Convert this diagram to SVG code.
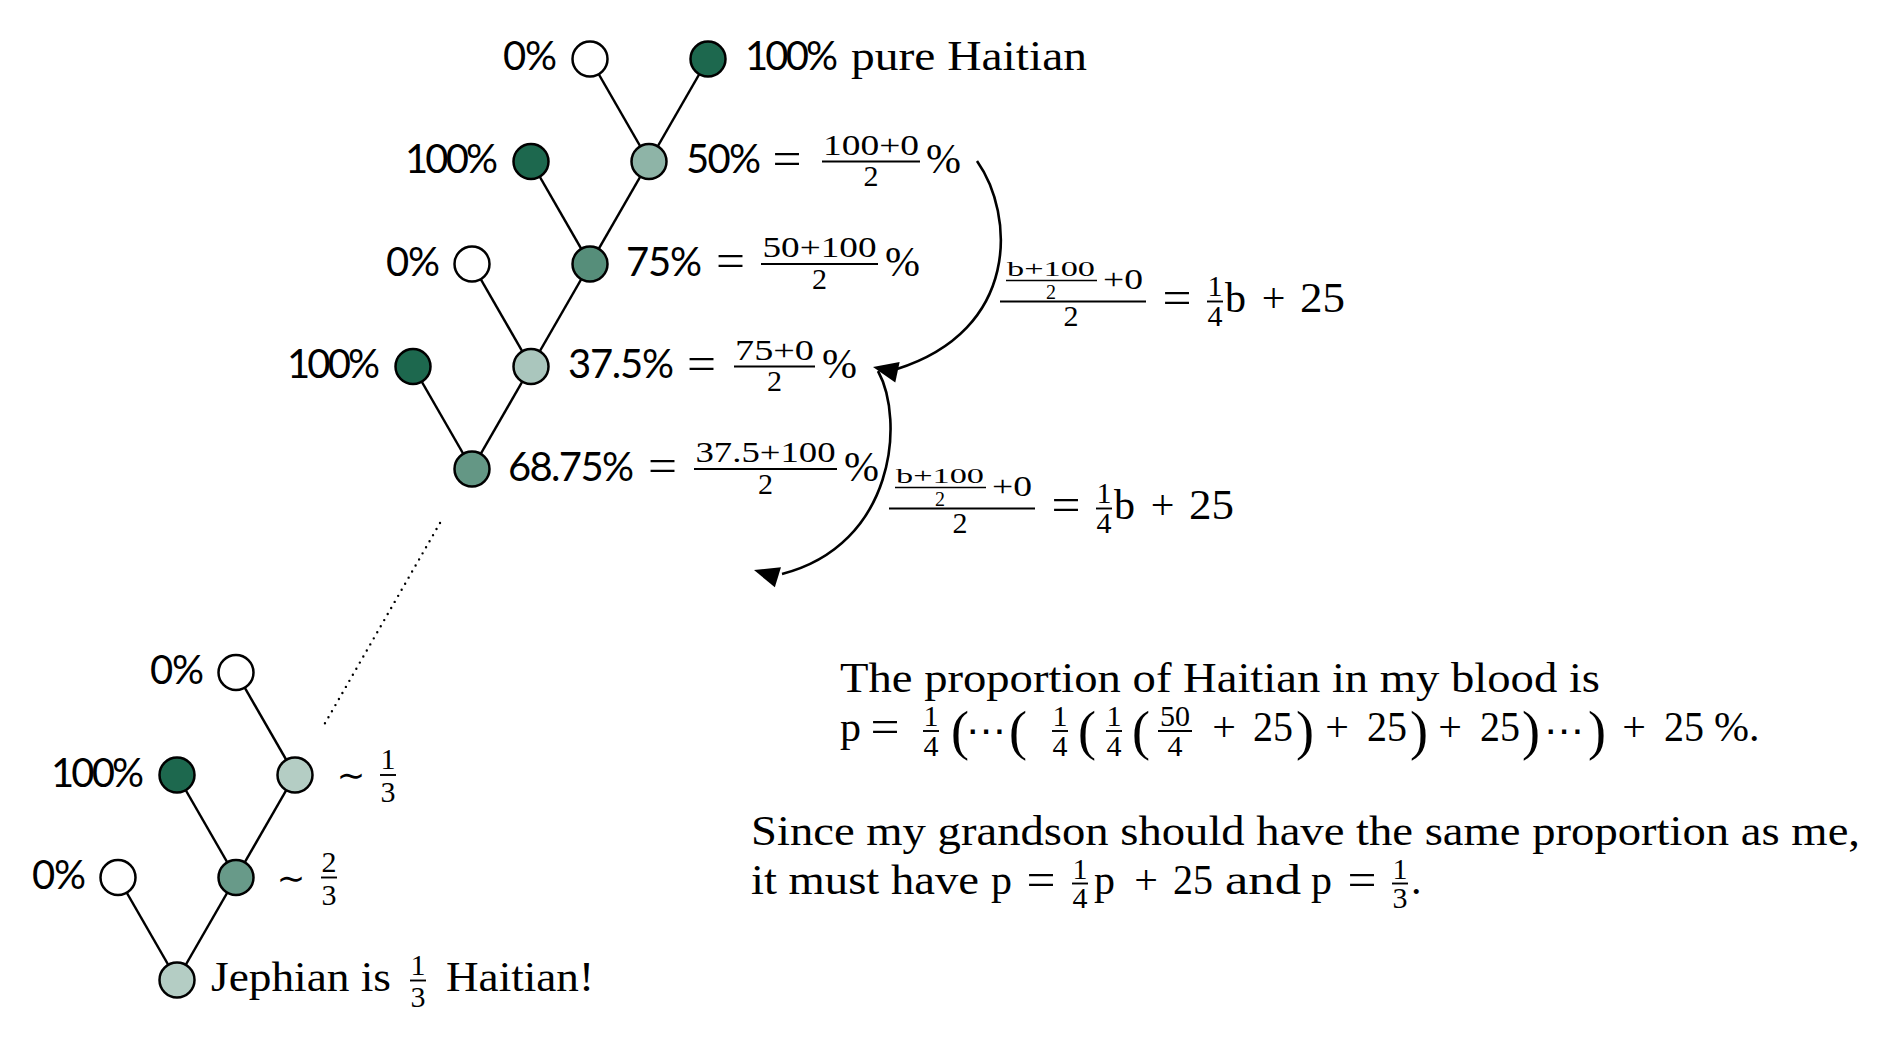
<svg xmlns="http://www.w3.org/2000/svg" xmlns:xlink="http://www.w3.org/1999/xlink" width="1890" height="1063" viewBox="0 0 1890 1063">
<defs>
<style>
.n{stroke:#000;stroke-width:2.5}
.w{fill:#ffffff}.d{fill:#1d684e}.p75{fill:#568e7a}.p50{fill:#8eb4a7}.p37{fill:#aac6bd}.p68{fill:#649785}.p33{fill:#b4cdc4}.p67{fill:#689a89}
.e{stroke:#000;stroke-width:2.5;fill:none}
.arc{stroke:#000;stroke-width:2.6;fill:none}
.dot{stroke:#000;stroke-width:2.4;stroke-dasharray:0 7;stroke-linecap:round}
.bar{stroke:#000;stroke-width:1.9}
.sbar{stroke:#000;stroke-width:1.4}
text{fill:#000}
.sans{font-family:Lato,"Open Sans",sans-serif;font-size:40px}
.serif{font-family:"Liberation Serif",serif;font-size:42px}
.eq{font-family:"Liberation Serif",serif;font-size:46px}
.sc{font-family:"Liberation Serif",serif;font-size:30px}
.ssc{font-family:"Liberation Serif",serif;font-size:20px}
.par{font-family:"Liberation Serif",serif;font-size:54px}
.sim{font-family:"DejaVu Sans",sans-serif;font-size:34px}
.dots{font-family:"DejaVu Sans",sans-serif;font-size:36px}
.m{text-anchor:middle}
.end{text-anchor:end}
</style>
<path id="ah" d="M0,0 L-25,-10.5 L-25,10.5 Z" fill="#000"/>
</defs>

<g id="connectors">
<line class="e" x1="590" y1="59" x2="649" y2="161.5"/>
<line class="e" x1="708" y1="59" x2="649" y2="161.5"/>
<line class="e" x1="531" y1="161.5" x2="590" y2="264"/>
<line class="e" x1="649" y1="161.5" x2="590" y2="264"/>
<line class="e" x1="472" y1="264" x2="531" y2="366.5"/>
<line class="e" x1="590" y1="264" x2="531" y2="366.5"/>
<line class="e" x1="413" y1="366.5" x2="472" y2="469"/>
<line class="e" x1="531" y1="366.5" x2="472" y2="469"/>
<line class="e" x1="236" y1="672.5" x2="295" y2="775"/>
<line class="e" x1="177" y1="775" x2="236" y2="877.5"/>
<line class="e" x1="295" y1="775" x2="236" y2="877.5"/>
<line class="e" x1="118" y1="877.5" x2="177" y2="980"/>
<line class="e" x1="236" y1="877.5" x2="177" y2="980"/>
<line class="dot" x1="440" y1="523" x2="324" y2="725"/>
<path class="arc" d="M977,161 C1015,215 1020,330 897,369"/>
<use xlink:href="#ah" transform="translate(873,367) rotate(-168)"/>
<path class="arc" d="M878,371 C905,420 895,545 782,574"/>
<use xlink:href="#ah" transform="translate(754,570) rotate(-163)"/>
</g>

<!-- top tree -->
<g id="n-top-white">
<circle class="n w" cx="590" cy="59" r="17.5"/>
<text class="sans end" x="557" y="70" textLength="54">0%</text>
</g>
<g id="n-top-pure">
<circle class="n d" cx="708" cy="59" r="17.5"/>
<text class="sans" x="745" y="70" textLength="93">100%</text>
<text class="serif" x="851" y="70" textLength="236" lengthAdjust="spacingAndGlyphs">pure Haitian</text>
</g>
<g id="n-l3-dark">
<circle class="n d" cx="531" cy="161.5" r="17.5"/>
<text class="sans end" x="498" y="173" textLength="93">100%</text>
</g>
<g id="n-50">
<circle class="n p50" cx="649" cy="161.5" r="17.5"/>
<text class="sans" x="686" y="173" textLength="75">50%</text>
<text class="eq m" x="787" y="173.5" textLength="29" lengthAdjust="spacingAndGlyphs">=</text>
<text class="sc m" x="871" y="154.5" textLength="96" lengthAdjust="spacingAndGlyphs">100+0</text>
<line class="bar" x1="822" y1="161.5" x2="920" y2="161.5"/>
<text class="sc m" x="871" y="186">2</text>
<text class="serif" x="926" y="173">%</text>
</g>
<g id="n-l2-white">
<circle class="n w" cx="472" cy="264" r="17.5"/>
<text class="sans end" x="440" y="275.5" textLength="54">0%</text>
</g>
<g id="n-75">
<circle class="n p75" cx="590" cy="264" r="17.5"/>
<text class="sans" x="626" y="275.5" textLength="76">75%</text>
<text class="eq m" x="730.5" y="276" textLength="29" lengthAdjust="spacingAndGlyphs">=</text>
<text class="sc m" x="819.5" y="257" textLength="114" lengthAdjust="spacingAndGlyphs">50+100</text>
<line class="bar" x1="761" y1="264" x2="878" y2="264"/>
<text class="sc m" x="819.5" y="288.5">2</text>
<text class="serif" x="885" y="275.5">%</text>
</g>
<g id="n-l1-dark">
<circle class="n d" cx="413" cy="366.5" r="17.5"/>
<text class="sans end" x="380" y="378" textLength="93">100%</text>
</g>
<g id="n-37">
<circle class="n p37" cx="531" cy="366.5" r="17.5"/>
<text class="sans" x="568" y="378" textLength="106">37.5%</text>
<text class="eq m" x="701.5" y="378.5" textLength="29" lengthAdjust="spacingAndGlyphs">=</text>
<text class="sc m" x="774.5" y="359.5" textLength="79" lengthAdjust="spacingAndGlyphs">75+0</text>
<line class="bar" x1="734" y1="366.5" x2="815" y2="366.5"/>
<text class="sc m" x="774.5" y="391">2</text>
<text class="serif" x="822" y="378">%</text>
</g>
<g id="n-68">
<circle class="n p68" cx="472" cy="469" r="17.5"/>
<text class="sans" x="508" y="480.5" textLength="126">68.75%</text>
<text class="eq m" x="662.5" y="481" textLength="29" lengthAdjust="spacingAndGlyphs">=</text>
<text class="sc m" x="765.5" y="462" textLength="140" lengthAdjust="spacingAndGlyphs">37.5+100</text>
<line class="bar" x1="694" y1="469" x2="837" y2="469"/>
<text class="sc m" x="765.5" y="493.5">2</text>
<text class="serif" x="844" y="480.5">%</text>
</g>

<!-- arrow labels -->
<g id="label-upper">
<text class="ssc m" x="1051" y="275.5" textLength="88" lengthAdjust="spacingAndGlyphs">b+100</text>
<line class="sbar" x1="1006" y1="280.5" x2="1097" y2="280.5"/>
<text class="ssc m" x="1051" y="299">2</text>
<text class="sc" x="1103" y="289" textLength="40" lengthAdjust="spacingAndGlyphs">+0</text>
<line class="bar" x1="1000" y1="301.5" x2="1146" y2="301.5"/>
<text class="sc m" x="1071" y="326">2</text>
<text class="eq m" x="1177" y="313" textLength="29" lengthAdjust="spacingAndGlyphs">=</text>
<text class="sc m" x="1215" y="296">1</text>
<line class="bar" x1="1207" y1="301.5" x2="1223" y2="301.5"/>
<text class="sc m" x="1215" y="326">4</text>
<text class="serif" x="1225" y="312">b</text>
<text class="serif m" x="1273.5" y="312">+</text>
<text class="serif" x="1300" y="312" textLength="45" lengthAdjust="spacingAndGlyphs">25</text>
</g>
<g id="label-lower">
<text class="ssc m" x="940" y="482.5" textLength="88" lengthAdjust="spacingAndGlyphs">b+100</text>
<line class="sbar" x1="895" y1="487.5" x2="986" y2="487.5"/>
<text class="ssc m" x="940" y="506">2</text>
<text class="sc" x="992" y="496" textLength="40" lengthAdjust="spacingAndGlyphs">+0</text>
<line class="bar" x1="889" y1="508.5" x2="1035" y2="508.5"/>
<text class="sc m" x="960" y="533">2</text>
<text class="eq m" x="1066" y="520" textLength="29" lengthAdjust="spacingAndGlyphs">=</text>
<text class="sc m" x="1104" y="503">1</text>
<line class="bar" x1="1096" y1="508.5" x2="1112" y2="508.5"/>
<text class="sc m" x="1104" y="533">4</text>
<text class="serif" x="1114" y="519">b</text>
<text class="serif m" x="1162.5" y="519">+</text>
<text class="serif" x="1189" y="519" textLength="45" lengthAdjust="spacingAndGlyphs">25</text>
</g>

<!-- lower tree -->
<g id="n-low-top-white">
<circle class="n w" cx="236" cy="672.5" r="17.5"/>
<text class="sans end" x="204" y="684" textLength="54">0%</text>
</g>
<g id="n-low-dark">
<circle class="n d" cx="177" cy="775" r="17.5"/>
<text class="sans end" x="144" y="786.5" textLength="93">100%</text>
</g>
<g id="n-third">
<circle class="n p33" cx="295" cy="775" r="17.5"/>
<text class="sim m" x="351" y="787">∼</text>
<text class="sc m" x="388" y="769">1</text>
<line class="bar" x1="380" y1="775" x2="396" y2="775"/>
<text class="sc m" x="388" y="802">3</text>
</g>
<g id="n-low-white">
<circle class="n w" cx="118" cy="877.5" r="17.5"/>
<text class="sans end" x="86" y="889" textLength="54">0%</text>
</g>
<g id="n-twothirds">
<circle class="n p67" cx="236" cy="877.5" r="17.5"/>
<text class="sim m" x="291" y="889.5">∼</text>
<text class="sc m" x="329" y="871.5">2</text>
<line class="bar" x1="321" y1="877.5" x2="337" y2="877.5"/>
<text class="sc m" x="329" y="904.5">3</text>
</g>
<g id="n-jephian">
<circle class="n p33" cx="177" cy="980" r="17.5"/>
<text class="serif" x="211" y="991" textLength="180" lengthAdjust="spacingAndGlyphs">Jephian is</text>
<text class="sc m" x="418" y="974.5">1</text>
<line class="bar" x1="410" y1="980.5" x2="426" y2="980.5"/>
<text class="sc m" x="418" y="1007">3</text>
<text class="serif" x="446" y="991" textLength="148" lengthAdjust="spacingAndGlyphs">Haitian!</text>
</g>

<!-- explanation -->
<g id="explanation">
<text class="serif" x="840" y="692" textLength="760" lengthAdjust="spacingAndGlyphs">The proportion of Haitian in my blood is</text>
<text class="serif" x="840" y="741">p</text>
<text class="eq m" x="885" y="742" textLength="29" lengthAdjust="spacingAndGlyphs">=</text>
<text class="sc m" x="931" y="726">1</text><line class="bar" x1="923" y1="731" x2="939" y2="731"/><text class="sc m" x="931" y="756">4</text>
<text class="par m" x="960" y="749">(</text>
<text class="dots m" x="986" y="743" textLength="40" lengthAdjust="spacingAndGlyphs">⋯</text>
<text class="par m" x="1018" y="749">(</text>
<text class="sc m" x="1060" y="726">1</text><line class="bar" x1="1052" y1="731" x2="1068" y2="731"/><text class="sc m" x="1060" y="756">4</text>
<text class="par m" x="1087" y="749">(</text>
<text class="sc m" x="1114" y="726">1</text><line class="bar" x1="1106" y1="731" x2="1122" y2="731"/><text class="sc m" x="1114" y="756">4</text>
<text class="par m" x="1141" y="749">(</text>
<text class="sc m" x="1175" y="726">50</text><line class="bar" x1="1158" y1="731" x2="1192" y2="731"/><text class="sc m" x="1175" y="756">4</text>
<text class="serif m" x="1224" y="741">+</text>
<text class="serif m" x="1273" y="741" textLength="40" lengthAdjust="spacingAndGlyphs">25</text>
<text class="par m" x="1305" y="749">)</text>
<text class="serif m" x="1337" y="741">+</text>
<text class="serif m" x="1387" y="741" textLength="40" lengthAdjust="spacingAndGlyphs">25</text>
<text class="par m" x="1419" y="749">)</text>
<text class="serif m" x="1450" y="741">+</text>
<text class="serif m" x="1500" y="741" textLength="40" lengthAdjust="spacingAndGlyphs">25</text>
<text class="par m" x="1531" y="749">)</text>
<text class="dots m" x="1564" y="743" textLength="40" lengthAdjust="spacingAndGlyphs">⋯</text>
<text class="par m" x="1597" y="749">)</text>
<text class="serif m" x="1634" y="741">+</text>
<text class="serif m" x="1684" y="741" textLength="40" lengthAdjust="spacingAndGlyphs">25</text>
<text class="serif" x="1714" y="741">%.</text>

<text class="serif" x="751" y="845" textLength="1109" lengthAdjust="spacingAndGlyphs">Since my grandson should have the same proportion as me,</text>
<text class="serif" x="751" y="894" textLength="228" lengthAdjust="spacingAndGlyphs">it must have</text>
<text class="serif" x="991" y="894">p</text>
<text class="eq m" x="1041" y="895" textLength="29" lengthAdjust="spacingAndGlyphs">=</text>
<text class="sc m" x="1080" y="878.5">1</text><line class="bar" x1="1072" y1="883.5" x2="1088" y2="883.5"/><text class="sc m" x="1080" y="908">4</text>
<text class="serif" x="1094" y="894">p</text>
<text class="serif m" x="1146" y="894">+</text>
<text class="serif m" x="1193" y="894" textLength="40" lengthAdjust="spacingAndGlyphs">25</text>
<text class="serif" x="1225" y="894" textLength="76" lengthAdjust="spacingAndGlyphs">and</text>
<text class="serif" x="1311" y="894">p</text>
<text class="eq m" x="1362" y="895" textLength="29" lengthAdjust="spacingAndGlyphs">=</text>
<text class="sc m" x="1400" y="878.5">1</text><line class="bar" x1="1392" y1="883.5" x2="1408" y2="883.5"/><text class="sc m" x="1400" y="908">3</text>
<text class="serif" x="1411" y="894">.</text>
</g>
</svg>
